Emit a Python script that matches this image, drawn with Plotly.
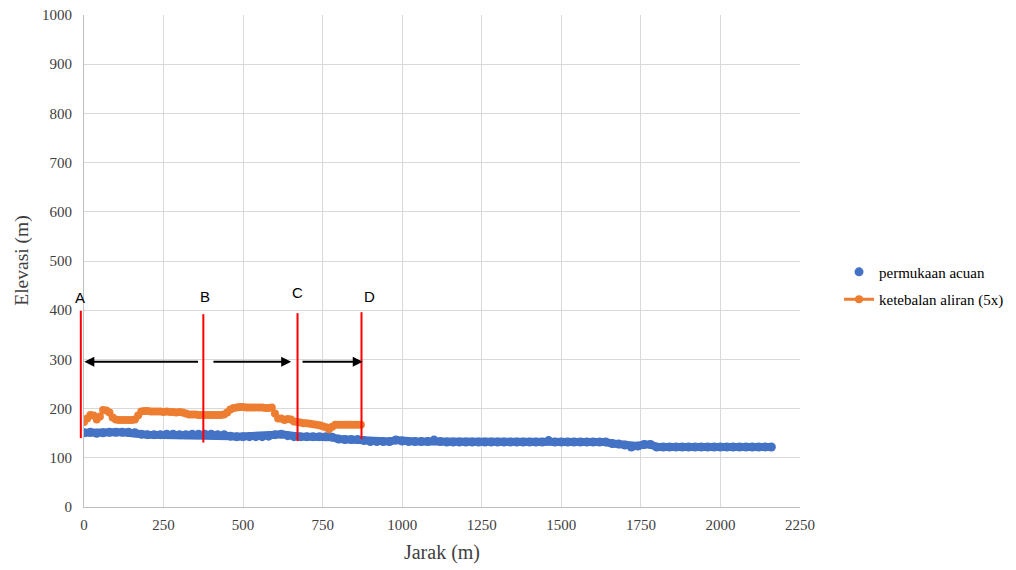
import plotly.graph_objects as go

# permukaan acuan (blue), distance every 20 m
blue_x = list(range(0, 2161, 20))
blue_y = [151, 152, 150, 151, 152, 152, 152, 152, 151, 148,
          147, 147, 147, 148, 148, 147, 147, 148, 148, 148,
          148, 147, 147, 144, 143, 143, 143, 143, 143, 144,
          147, 148, 145, 143, 143, 143, 143, 143, 143, 142,
          138, 137, 137, 137, 135, 133, 133, 133, 133, 136,
          134, 133, 133, 133, 133, 136, 133, 132, 132, 132,
          132, 132, 132, 132, 132, 132, 132, 132, 132, 132,
          132, 132, 132, 135, 132, 132, 132, 132, 132, 132,
          132, 132, 132, 129, 128, 126, 122, 124, 127, 127,
          122, 122, 122, 122, 122, 122, 122, 122, 122, 122,
          122, 122, 122, 122, 122, 122, 122, 122, 122]

# ketebalan aliran (5x) (orange), distance every 10 m
orange_x = list(range(0, 871, 10))
orange_y = [173, 180, 187, 186, 178, 184, 197, 196, 192, 182,
            178, 177, 177, 177, 177, 177, 178, 186, 194, 195,
            195, 194, 194, 194, 194, 193, 194, 193, 193, 192,
            193, 192, 190, 188, 188, 188, 187, 187, 187, 187,
            187, 187, 187, 187, 188, 192, 198, 201, 202, 203,
            203, 202, 202, 202, 202, 202, 202, 201, 201, 202,
            190, 180, 180, 177, 179, 178, 174, 173, 172, 170,
            170, 169, 168, 167, 166, 164, 162, 158, 163, 167,
            167, 167, 167, 167, 167, 167, 167, 167]

# section markers (A sits just left of the y axis)
sec_labels = ["A", "B", "C", "D"]
sec_x = [-10, 375, 671, 872]
sec_top = [399, 392, 394, 396]
sec_bot = [140, 131, 134, 138]
lab_x = [-14, 380, 670, 897]
lab_y = [425, 428, 435, 428]

# arrows: (tail_x, head_x) at elevation arrow_y
arrow_tail = [363, 402, 682]
arrow_head = [1, 651, 876]
arrow_y = 295

serif = "Liberation Serif"
XMAX = 2250

def xpaper(v):
    return v / XMAX

fig = go.Figure()
fig.add_trace(go.Scatter(
    x=blue_x, y=blue_y, mode="lines", showlegend=False, hoverinfo="skip",
    line=dict(color="#4472c4", width=8),
))
fig.add_trace(go.Scatter(
    x=blue_x, y=blue_y, mode="markers", name="permukaan acuan",
    legendgroup="a",
    marker=dict(color="#4472c4", size=9, line=dict(width=0)),
))
fig.add_trace(go.Scatter(
    x=orange_x, y=orange_y, mode="lines+markers", name="ketebalan aliran (5x)",
    legendgroup="b",
    line=dict(color="#ed7d31", width=3),
    marker=dict(color="#ed7d31", size=8, line=dict(width=0)),
))

for lx, top, bot in zip(sec_x, sec_top, sec_bot):
    fig.add_shape(type="line", xref="paper", yref="y",
                  x0=xpaper(lx), x1=xpaper(lx), y0=bot, y1=top,
                  line=dict(color="#ff0000", width=2), layer="above")
for t, lx, ly in zip(sec_labels, lab_x, lab_y):
    fig.add_annotation(x=xpaper(lx), xref="paper", y=ly, yref="y", text=t, showarrow=False,
                       xanchor="center", yanchor="middle",
                       font=dict(family="Liberation Sans", size=15, color="#000"))
for tx, hx in zip(arrow_tail, arrow_head):
    fig.add_annotation(x=hx, y=arrow_y, ax=tx, ay=arrow_y, xref="x", yref="y",
                       axref="x", ayref="y", text="", showarrow=True,
                       arrowhead=2, arrowsize=1, arrowwidth=2, arrowcolor="#000")

# y-axis title placed as rotated text
fig.add_annotation(x=-0.087, xref="paper", y=0.5, yref="paper", text="Elevasi (m)",
                   textangle=-90, showarrow=False, xanchor="center", yanchor="middle",
                   borderpad=0,
                   font=dict(family=serif, size=19.5, color="#404040"))

fig.update_layout(
    width=1008, height=562,
    margin=dict(l=76, r=216, t=7, b=63, autoexpand=False),
    paper_bgcolor="white", plot_bgcolor="white",
    font=dict(family=serif, size=15, color="#404040"),
    showlegend=True,
    legend=dict(x=1.0545, y=0.511, xanchor="left", yanchor="top",
                font=dict(family=serif, size=15, color="#000"),
                bgcolor="rgba(0,0,0,0)", tracegroupgap=5),
    xaxis=dict(range=[0, XMAX], dtick=250, tick0=0, automargin=False,
               showgrid=True, gridcolor="#d9d9d9", gridwidth=1,
               showline=True, linecolor="#bfbfbf", linewidth=1,
               zeroline=False, ticks="", ticklabelstandoff=4,
               tickfont=dict(family=serif, size=15, color="#404040"),
               title=dict(text="Jarak (m)", font=dict(family=serif, size=20, color="#404040"), standoff=12)),
    yaxis=dict(range=[0, 1000], dtick=100, tick0=0, automargin=False,
               showgrid=True, gridcolor="#d9d9d9", gridwidth=1,
               showline=True, linecolor="#bfbfbf", linewidth=1,
               zeroline=False, ticks="", ticklabelstandoff=8,
               ticklabeloverflow="allow",
               tickfont=dict(family=serif, size=15, color="#404040")),
)

fig.write_html("out.html")
